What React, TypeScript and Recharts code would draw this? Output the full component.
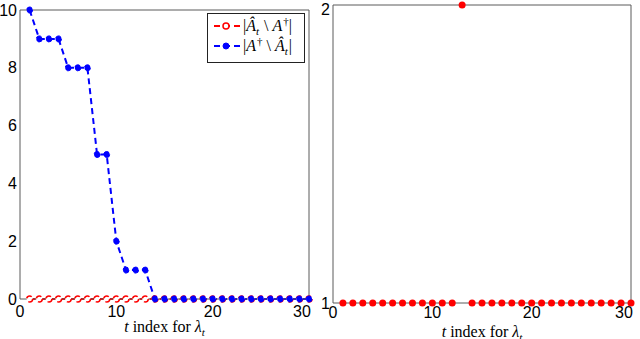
import React from 'react';
import { ComposedChart, Line, XAxis, YAxis, Legend } from 'recharts';

// t index, 1..30
const tIndex = [1, 2, 3, 4, 5, 6, 7, 8, 9, 10, 11, 12, 13, 14, 15, 16, 17, 18, 19, 20, 21, 22, 23, 24, 25, 26, 27, 28, 29, 30];
// |Â_t \ A†|
const extraCount = [0, 0, 0, 0, 0, 0, 0, 0, 0, 0, 0, 0, 0, 0, 0, 0, 0, 0, 0, 0, 0, 0, 0, 0, 0, 0, 0, 0, 0, 0];
// |A† \ Â_t|
const missedCount = [10, 9, 9, 9, 8, 8, 8, 5, 5, 2, 1, 1, 1, 0, 0, 0, 0, 0, 0, 0, 0, 0, 0, 0, 0, 0, 0, 0, 0, 0];
// right panel
const rightValues = [1, 1, 1, 1, 1, 1, 1, 1, 1, 1, 1, 1, 2, 1, 1, 1, 1, 1, 1, 1, 1, 1, 1, 1, 1, 1, 1, 1, 1, 1];

const xTicks = [0, 10, 20, 30];
const leftYTicks = [0, 2, 4, 6, 8, 10];
const rightYTicks = [1, 2];

const leftData = tIndex.map((t, i) => ({ t, extra: extraCount[i], missed: missedCount[i] }));
const rightData = tIndex.map((t, i) => ({ t, v: rightValues[i] }));

const AXIS = '#5a5a5a';
const tickFont = { fontFamily: "'Liberation Sans', Arial, sans-serif", fontSize: 16, fill: '#000' };
const serif = "'Liberation Serif', 'DejaVu Serif', serif";

const XLabel = ({ viewBox, dy }: any) => {
  const { x, y, width } = viewBox;
  return (
    <text x={x + width / 2} y={y + dy} textAnchor="middle" fontFamily={serif} fontSize={16} fill="#000">
      <tspan fontStyle="italic">t</tspan>
      <tspan> index for </tspan>
      <tspan fontStyle="italic">λ</tspan>
      <tspan fontStyle="italic" fontSize={11} dy={4}>t</tspan>
    </text>
  );
};

const Sample = ({ color, open }: { color: string; open: boolean }) => (
  <svg width={28} height={12} style={{ display: 'block' }}>
    <line x1={1} y1={6} x2={27} y2={6} stroke={color} strokeWidth={2} strokeDasharray="6 4" />
    <circle cx={13} cy={6} r={3} fill={open ? '#fff' : color} stroke={color} strokeWidth={open ? 1.5 : 1} />
  </svg>
);

const At = () => (
  <span>
    <span style={{ fontStyle: 'italic' }}>Â</span>
    <span style={{ fontStyle: 'italic', fontSize: 11, position: 'relative', top: 4, marginRight: 1 }}>t</span>
  </span>
);
const Adag = () => (
  <span>
    <span style={{ fontStyle: 'italic' }}>A</span>
    <span style={{ fontSize: 11, position: 'relative', top: -6, marginLeft: 1 }}>†</span>
  </span>
);

const LegendBox = () => (
  <div
    style={{
      border: '1px solid #222',
      background: '#fff',
      width: 96,
      height: 46,
      boxSizing: 'content-box',
      fontFamily: serif,
      fontSize: 16,
      color: '#000',
      paddingTop: 2,
    }}
  >
    <div style={{ display: 'flex', alignItems: 'center', height: 20, paddingLeft: 5 }}>
      <Sample color="#ff0000" open />
      <span style={{ marginLeft: 2, lineHeight: '16px', whiteSpace: 'nowrap' }}>
        |<At /> \ <Adag />|
      </span>
    </div>
    <div style={{ display: 'flex', alignItems: 'center', height: 20, paddingLeft: 5 }}>
      <Sample color="#0000ff" open={false} />
      <span style={{ marginLeft: 2, lineHeight: '16px', whiteSpace: 'nowrap' }}>
        |<Adag /> \ <At />|
      </span>
    </div>
  </div>
);

// inward tick marks + frame (MATLAB box style), drawn with mirrored axes
const frameAxes = (xDomain: number[], yDomain: number[], yTicks: number[]) => [
  <XAxis key="bm" xAxisId="bm" type="number" domain={xDomain} ticks={xTicks} mirror height={1} axisLine={false} tick={false} tickSize={5} tickLine={{ stroke: AXIS }} />,
  <XAxis key="tm" xAxisId="tm" orientation="top" type="number" domain={xDomain} ticks={xTicks} mirror height={1} axisLine={{ stroke: AXIS }} tick={false} tickSize={5} tickLine={{ stroke: AXIS }} />,
  <YAxis key="lm" yAxisId="lm" type="number" domain={yDomain} ticks={yTicks} mirror width={1} axisLine={false} tick={false} tickSize={5} tickLine={{ stroke: AXIS }} />,
  <YAxis key="rm" yAxisId="rm" orientation="right" type="number" domain={yDomain} ticks={yTicks} mirror width={1} axisLine={{ stroke: AXIS }} tick={false} tickSize={5} tickLine={{ stroke: AXIS }} />,
];

export default function App() {
  return (
    <div style={{ position: 'absolute', left: 0, top: 0, width: 640, height: 339, background: '#fff', overflow: 'hidden' }}>
      <style>{'.recharts-surface { overflow: visible; }'}</style>
      <div style={{ position: 'absolute', left: 0, top: 0 }}>
        <ComposedChart width={310} height={339} data={leftData} margin={{ top: 10, right: 1, bottom: 10, left: 0 }}>
          <XAxis
            xAxisId="b"
            dataKey="t"
            type="number"
            domain={[0, 30]}
            ticks={xTicks}
            height={30}
            axisLine={{ stroke: AXIS }}
            tickLine={false}
            tickSize={0}
            tickMargin={7}
            tick={tickFont}
            label={<XLabel dy={33} />}
          />
          <YAxis
            yAxisId="l"
            type="number"
            domain={[0, 10]}
            ticks={leftYTicks}
            width={20}
            axisLine={{ stroke: AXIS }}
            tickLine={false}
            tickSize={0}
            tickMargin={3}
            tick={tickFont}
          />
          {frameAxes([0, 30], [0, 10], leftYTicks)}
          <Legend layout="vertical" align="center" verticalAlign="middle" content={<LegendBox />} wrapperStyle={{ left: 207, top: 13, width: 98, height: 48 }} />
          <Line
            xAxisId="b"
            yAxisId="l"
            dataKey="extra"
            type="linear"
            stroke="#ff0000"
            strokeWidth={2}
            strokeDasharray="6 4"
            dot={{ r: 3, fill: '#fff', stroke: '#ff0000', strokeWidth: 1.5 }}
            isAnimationActive={false}
          />
          <Line
            xAxisId="b"
            yAxisId="l"
            dataKey="missed"
            type="linear"
            stroke="#0000ff"
            strokeWidth={2}
            strokeDasharray="6 4"
            dot={{ r: 3, fill: '#0000ff', stroke: '#0000ff', strokeWidth: 1 }}
            isAnimationActive={false}
          />
        </ComposedChart>
      </div>
      <div style={{ position: 'absolute', left: 320, top: 0 }}>
        <ComposedChart width={312} height={339} data={rightData} margin={{ top: 5, right: 1, bottom: 6, left: 0 }}>
          <XAxis
            xAxisId="b"
            dataKey="t"
            type="number"
            domain={[0, 30]}
            ticks={xTicks}
            height={30}
            axisLine={{ stroke: AXIS }}
            tickLine={false}
            tickSize={0}
            tickMargin={4}
            tick={tickFont}
            label={<XLabel dy={34} />}
          />
          <YAxis
            yAxisId="l"
            type="number"
            domain={[1, 2]}
            ticks={rightYTicks}
            width={13}
            axisLine={{ stroke: AXIS }}
            tickLine={false}
            tickSize={0}
            tickMargin={3}
            tick={tickFont}
          />
          {frameAxes([0, 30], [1, 2], rightYTicks)}
          <Line
            xAxisId="b"
            yAxisId="l"
            dataKey="v"
            type="linear"
            stroke="none"
            dot={{ r: 3.5, fill: '#ff0000', stroke: '#ff0000', strokeWidth: 0 }}
            isAnimationActive={false}
          />
        </ComposedChart>
      </div>
    </div>
  );
}
